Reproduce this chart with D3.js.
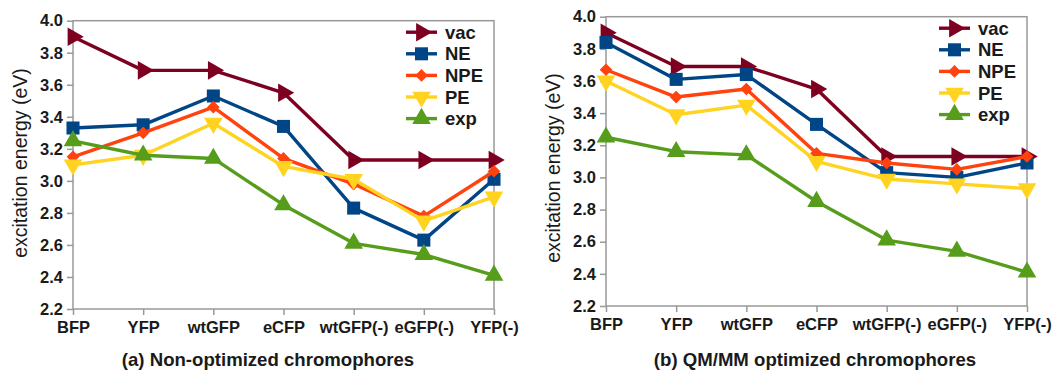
<!DOCTYPE html>
<html>
<head>
<meta charset="utf-8">
<script src="https://cdn.jsdelivr.net/npm/d3@7"></script>
<style>
  body { margin: 0; background: #fff; }
  svg { display: block; font-family: "Liberation Sans", Arial, sans-serif; }
</style>
</head>
<body>
<svg id="chart" width="1053" height="371"></svg>
<script>
// Excitation energies of GFP chromophores, two panels

const categories = ['BFP', 'YFP', 'wtGFP', 'eCFP', 'wtGFP(-)', 'eGFP(-)', 'YFP(-)'];
const seriesNames = ['vac', 'NE', 'NPE', 'PE', 'exp'];
const yTicks = [2.2, 2.4, 2.6, 2.8, 3.0, 3.2, 3.4, 3.6, 3.8, 4.0];

// (a) non-optimized
const vacA = [3.90, 3.69, 3.69, 3.55, 3.13, 3.13, 3.13];
const neA  = [3.33, 3.35, 3.53, 3.34, 2.83, 2.63, 3.01];
const npeA = [3.15, 3.30, 3.46, 3.14, 2.98, 2.78, 3.06];
const peA  = [3.10, 3.16, 3.36, 3.09, 3.01, 2.75, 2.90];
const expA = [3.25, 3.16, 3.14, 2.85, 2.61, 2.54, 2.41];

// (b) QM/MM optimized
const vacB = [3.90, 3.69, 3.69, 3.55, 3.13, 3.13, 3.13];
const neB  = [3.84, 3.61, 3.64, 3.33, 3.03, 3.00, 3.09];
const npeB = [3.67, 3.50, 3.55, 3.15, 3.09, 3.05, 3.13];
const peB  = [3.60, 3.39, 3.45, 3.10, 2.99, 2.96, 2.93];
const expB = [3.25, 3.16, 3.14, 2.85, 2.61, 2.54, 2.41];

const colors = {
    vac: '#7e0021',
    NE: '#004586',
    NPE: '#ff420e',
    PE: '#ffd320',
    exp: '#579d1c'
};

// marker shape + rotation per series
const markers = {
    vac: { type: d3.symbolTriangle, size: 150, rotate: 90 },
    NE: { type: d3.symbolSquare, size: 170, rotate: 0 },
    NPE: { type: d3.symbolSquare, size: 80, rotate: 45 },
    PE: { type: d3.symbolTriangle, size: 150, rotate: 180 },
    exp: { type: d3.symbolTriangle, size: 150, rotate: 0 }
};

const svg = d3.select('#chart');

function drawPanel(cfg) {
    const x = d3.scalePoint()
        .domain(categories)
        .range([cfg.left, cfg.right]);

    const y = d3.scaleLinear()
        .domain([2.2, 4.0])
        .range([cfg.bottom, cfg.top]);

    const g = svg.append('g');
    const axisColor = '#999';

    // frame
    g.append('rect')
        .attr('x', cfg.left)
        .attr('y', cfg.top)
        .attr('width', cfg.right - cfg.left)
        .attr('height', cfg.bottom - cfg.top)
        .attr('fill', 'none')
        .attr('stroke', axisColor)
        .attr('stroke-width', 1.5);

    // y axis
    const yAxis = g.append('g')
        .attr('transform', `translate(${cfg.left},0)`)
        .call(d3.axisLeft(y).tickValues(yTicks).tickFormat(d3.format('.1f')).tickSize(6).tickPadding(4));
    yAxis.select('.domain').remove();
    yAxis.selectAll('line').attr('stroke', axisColor).attr('stroke-width', 1.5);
    yAxis.selectAll('text')
        .attr('fill', '#1a1a1a')
        .style('font-size', '16.5px')
        .style('font-weight', 'bold');

    // x axis
    const xAxis = g.append('g')
        .attr('transform', `translate(0,${cfg.bottom})`)
        .call(d3.axisBottom(x).tickSize(6).tickPadding(6));
    xAxis.select('.domain').remove();
    xAxis.selectAll('line').attr('stroke', axisColor).attr('stroke-width', 1.5);
    xAxis.selectAll('text')
        .attr('fill', '#1a1a1a')
        .style('font-size', '16.5px')
        .style('font-weight', 'bold');

    // axis title
    g.append('text')
        .attr('transform', `translate(${cfg.titleX},${cfg.titleY}) rotate(-90)`)
        .attr('text-anchor', 'middle')
        .attr('dy', '0.35em')
        .style('font-size', '19.5px')
        .attr('fill', '#1a1a1a')
        .text('excitation energy (eV)');

    // panel caption
    g.append('text')
        .attr('x', cfg.captionX)
        .attr('y', cfg.captionY)
        .attr('text-anchor', 'middle')
        .style('font-size', '18.6px')
        .style('font-weight', 'bold')
        .attr('fill', '#1a1a1a')
        .text(cfg.caption);

    const line = d3.line()
        .x((d, i) => x(categories[i]))
        .y(d => y(d));

    cfg.series.forEach((values, si) => {
        const name = seriesNames[si];
        const m = markers[name];
        const sym = d3.symbol().type(m.type).size(m.size);

        g.append('path')
            .datum(values)
            .attr('d', line)
            .attr('fill', 'none')
            .attr('stroke', colors[name])
            .attr('stroke-width', 3.4)
            .attr('stroke-linejoin', 'round');

        g.selectAll(null)
            .data(values)
            .enter()
            .append('path')
            .attr('d', sym)
            .attr('transform', (d, i) => `translate(${x(categories[i])},${y(d)}) rotate(${m.rotate})`)
            .attr('fill', colors[name]);
    });

    // legend
    const legend = g.append('g')
        .attr('transform', `translate(${cfg.right - 88},${cfg.top + 11.5})`);

    seriesNames.forEach((name, i) => {
        const m = markers[name];
        const row = legend.append('g').attr('transform', `translate(0,${i * 21.6})`);
        row.append('line')
            .attr('x1', 0).attr('x2', 31)
            .attr('stroke', colors[name])
            .attr('stroke-width', 3.4);
        row.append('path')
            .attr('d', d3.symbol().type(m.type).size(m.size)())
            .attr('transform', `translate(15.5,0) rotate(${m.rotate})`)
            .attr('fill', colors[name]);
        row.append('text')
            .attr('x', 39)
            .attr('dy', '0.36em')
            .style('font-size', '18.5px')
            .style('font-weight', 'bold')
            .attr('fill', '#1a1a1a')
            .text(name);
    });
}

drawPanel({
    left: 73, right: 494, top: 20.7, bottom: 309,
    titleX: 20, titleY: 163,
    captionX: 268, captionY: 366,
    caption: '(a) Non-optimized chromophores',
    series: [vacA, neA, npeA, peA, expA]
});

drawPanel({
    left: 606, right: 1027, top: 16.7, bottom: 306,
    titleX: 553, titleY: 168,
    captionX: 815, captionY: 366,
    caption: '(b) QM/MM optimized chromophores',
    series: [vacB, neB, npeB, peB, expB]
});
</script>
</body>
</html>
